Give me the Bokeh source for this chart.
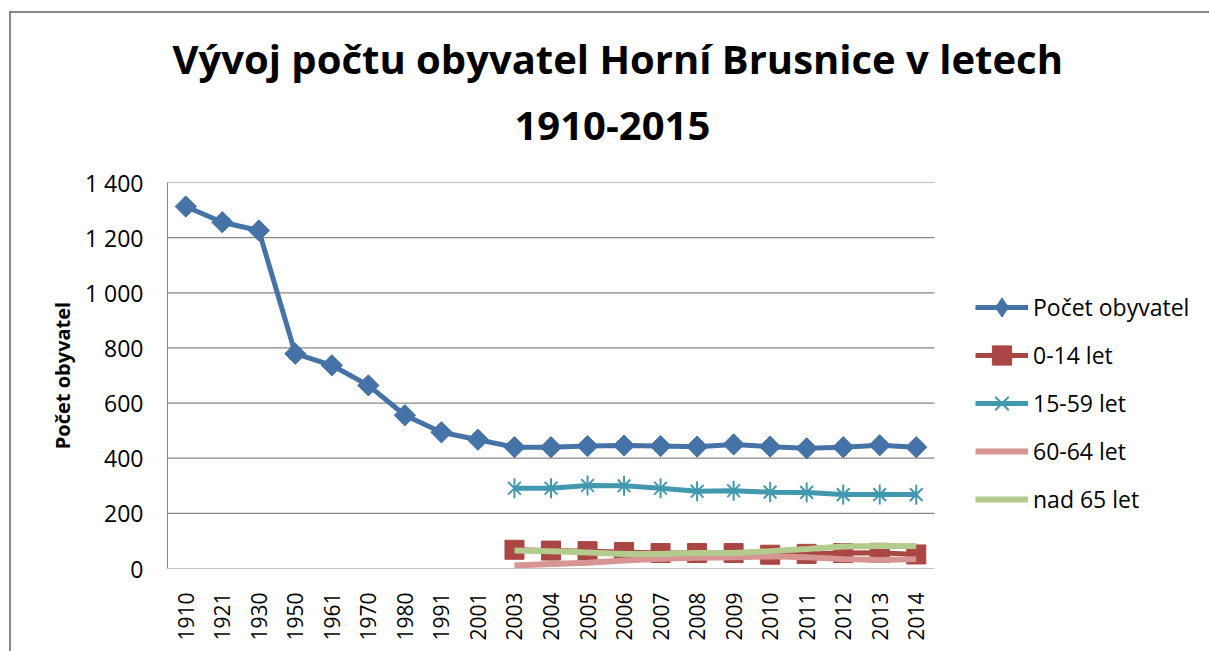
import math
from bokeh.plotting import figure
from bokeh.models import (FixedTicker, Legend, LegendItem, Title, Range1d)
from bokeh.embed import file_html
from bokeh.resources import INLINE

# ---- data ----
years = ["1910", "1921", "1930", "1950", "1961", "1970", "1980", "1991", "2001",
         "2003", "2004", "2005", "2006", "2007", "2008", "2009", "2010", "2011",
         "2012", "2013", "2014"]
pocet_obyvatel = [1313, 1256, 1226, 779, 737, 664, 556, 494, 467,
                  440, 440, 444, 446, 444, 442, 450, 442, 436, 440, 447, 440]
age_years = ["2003", "2004", "2005", "2006", "2007", "2008", "2009", "2010",
             "2011", "2012", "2013", "2014"]
age_0_14 = [68, 65, 63, 60, 56, 56, 56, 50, 53, 56, 57, 51]
age_15_59 = [291, 291, 301, 300, 291, 280, 282, 277, 276, 268, 268, 268]
age_60_64 = [11, 16, 21, 29, 35, 39, 41, 44, 41, 34, 31, 34]
age_65_plus = [65, 63, 58, 53, 53, 56, 56, 63, 71, 80, 82, 82]
y_ticks = [0, 200, 400, 600, 800, 1000, 1200, 1400]
y_tick_labels = ["0", "200", "400", "600", "800", "1 000", "1 200", "1 400"]

title_line1 = "Vývoj počtu obyvatel Horní Brusnice v letech"
title_line2 = "1910-2015"
y_label = "Počet obyvatel"
series_names = ["Počet obyvatel", "0-14 let", "15-59 let", "60-64 let", "nad 65 let"]

FONT = "Open Sans"
GRID = "#868686"

# ---- layout geometry (pixels) ----
W, H = 1209, 651
LEFT, TOP, BOTTOM = 167, 182, 83
AXIS_PX = 767                      # width of the category axis
frame_px = W - LEFT
cat_px = AXIS_PX / len(years)
x_idx = list(range(len(years)))
age_idx = [years.index(y) for y in age_years]
x_start = -0.5
x_end = x_start + frame_px / cat_px

p = figure(x_range=Range1d(x_start, x_end), y_range=Range1d(0, 1400),
           width=W, height=H, output_backend="svg", toolbar_location=None,
           min_border_left=LEFT, min_border_right=0,
           min_border_top=TOP, min_border_bottom=BOTTOM)
p.outline_line_color = None
p.background_fill_color = "white"
p.border_fill_alpha = 0
p.title.text = ""
# thin grey chart-area border (left and top edges) drawn behind the canvas
p.styles = {
    "background-color": "white",
    "background-image": "linear-gradient(#868686, #868686), linear-gradient(#868686, #868686)",
    "background-size": "2px calc(100% - 11px), calc(100% - 9px) 2px",
    "background-position": "9px 11px, 9px 11px",
    "background-repeat": "no-repeat",
}

# titles: added outward from the frame
spacer = Title(text=" ", text_font_size="23px", align="left")
t2 = Title(text=title_line2, align="left", offset=347, text_font=FONT,
           text_font_style="bold", text_font_size="40px", text_color="black")
gap = Title(text=" ", text_font_size="2px", align="left")
t1 = Title(text=title_line1, align="left", offset=5, text_font=FONT,
           text_font_style="bold", text_font_size="40px", text_color="black")
p.add_layout(spacer, "above")
p.add_layout(t2, "above")
p.add_layout(gap, "above")
p.add_layout(t1, "above")

# axes
p.yaxis.ticker = FixedTicker(ticks=y_ticks)
p.yaxis.major_label_overrides = {t: l for t, l in zip(y_ticks, y_tick_labels)}
p.yaxis.major_label_text_font = FONT
p.yaxis.major_label_text_font_size = "23px"
p.yaxis.major_label_text_color = "black"
p.yaxis.major_label_standoff = 18
p.yaxis.axis_label = y_label
p.yaxis.axis_label_text_font = FONT
p.yaxis.axis_label_text_font_style = "bold"
p.yaxis.axis_label_text_font_size = "20px"
p.yaxis.axis_label_text_color = "black"
p.yaxis.axis_label_standoff = 6
p.yaxis.axis_line_color = GRID
p.yaxis.major_tick_line_color = None
p.yaxis.minor_tick_line_color = None

p.xaxis.ticker = FixedTicker(ticks=x_idx)
p.xaxis.major_label_overrides = {i: y for i, y in zip(x_idx, years)}
p.xaxis.major_label_orientation = math.pi / 2
p.xaxis.major_label_text_font = FONT
p.xaxis.major_label_text_font_size = "21px"
p.xaxis.major_label_text_color = "black"
p.xaxis.major_label_standoff = 18
p.xaxis.axis_line_color = None
p.xaxis.major_tick_line_color = None
p.xaxis.minor_tick_line_color = None

p.xgrid.grid_line_color = None
p.ygrid.grid_line_color = None

# horizontal gridlines spanning only the category axis
p.segment(x0=x_start, x1=x_start + len(years), y0=y_ticks, y1=y_ticks,
          line_color=GRID, line_width=1.2, level="underlay")

# series
blue, red, teal, pink, green = "#4572A7", "#AA4643", "#4198AF", "#D69492", "#B3CB8D"

r1l = p.line(x_idx, pocet_obyvatel, color=blue, line_width=5)
r1d = p.scatter(x_idx, pocet_obyvatel, marker="diamond", size=20, color=blue)
r1m = p.scatter(x_idx, pocet_obyvatel, marker="square", angle=math.pi / 4,
                size=15, color=blue)

r2l = p.line(age_idx, age_0_14, color=red, line_width=5)
r2m = p.scatter(age_idx, age_0_14, marker="square", size=19, color=red)

r3l = p.line(age_idx, age_15_59, color=teal, line_width=5)
r3m = p.scatter(age_idx, age_15_59, marker="x", size=18, line_color=teal,
                line_width=2)
r3v = p.scatter(age_idx, age_15_59, marker="dash", angle=math.pi / 2, size=20,
                line_color=teal, line_width=2)

r4l = p.line(age_idx, age_60_64, color=pink, line_width=6)
r5l = p.line(age_idx, age_65_plus, color=green, line_width=6)

legend = Legend(items=[
    LegendItem(label=series_names[0], renderers=[r1l, r1d]),
    LegendItem(label=series_names[1], renderers=[r2l, r2m]),
    LegendItem(label=series_names[2], renderers=[r3l, r3m, r3v]),
    LegendItem(label=series_names[3], renderers=[r4l]),
    LegendItem(label=series_names[4], renderers=[r5l]),
])
legend.location = (808, 45)
legend.border_line_color = None
legend.background_fill_alpha = 0
legend.padding = 0
legend.margin = 0
legend.glyph_width = 53
legend.glyph_height = 48
legend.label_height = 48
legend.label_standoff = 5
legend.spacing = 0
legend.label_text_font = FONT
legend.label_text_font_size = "23px"
legend.label_text_color = "black"
p.add_layout(legend, "center")

open("out.html", "w").write(file_html(p, INLINE))
